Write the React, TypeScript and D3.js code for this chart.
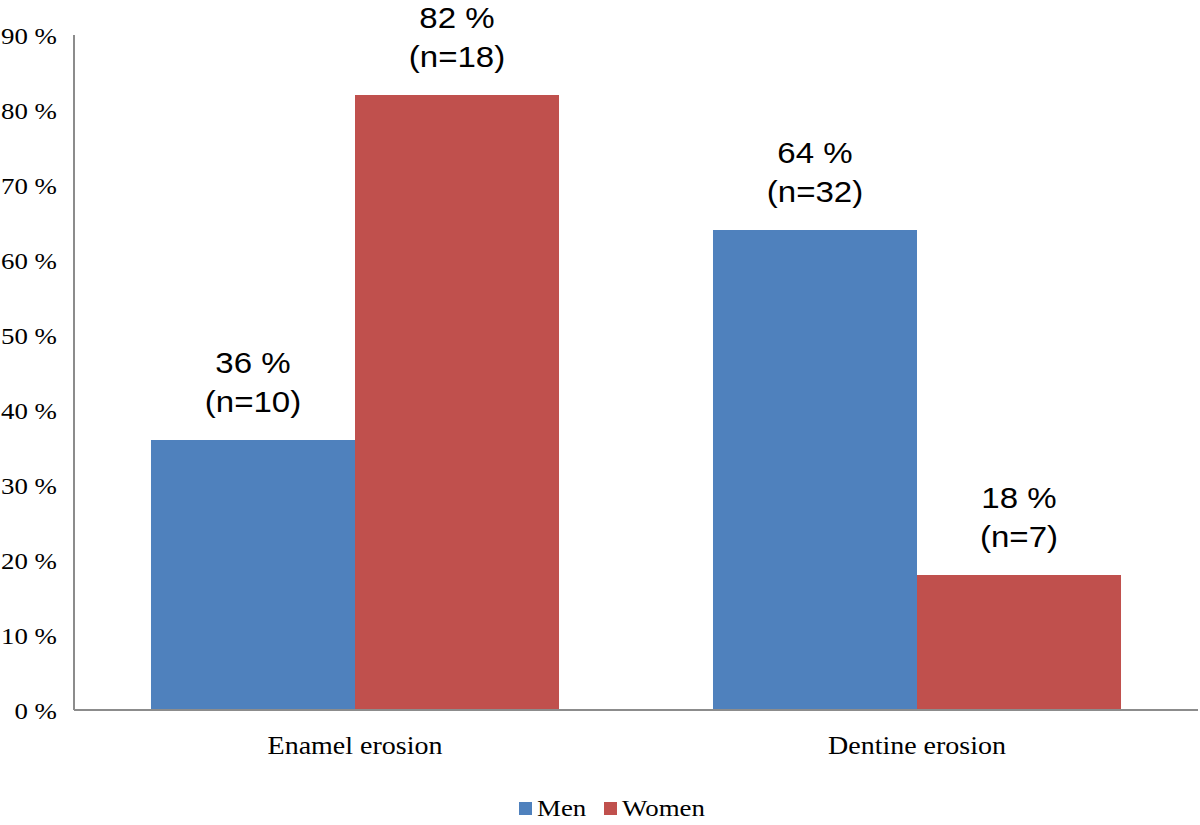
import * as d3 from 'd3'

const categories = ['Enamel erosion', 'Dentine erosion']
const seriesNames = ['Men', 'Women']
const seriesColors = ['#4F81BD', '#C0504D']
const menValues = [36, 64]
const womenValues = [82, 18]
const menCounts = [10, 32]
const womenCounts = [18, 7]
const yTicks = [0, 10, 20, 30, 40, 50, 60, 70, 80, 90]

const W = 1200
const H = 825
const SX = 1.12 // the picture is stretched a bit sideways

const serif = '"Liberation Serif", "Times New Roman", serif'
const sans = '"Liberation Sans", Arial, sans-serif'

export default function App() {
  const x0 = 74
  const x1 = 1198
  const yBottom = 710
  const yTop = 35

  const y = d3.scaleLinear().domain([0, 90]).range([yBottom, yTop])
  const xCat = d3.scaleBand<string>().domain(categories).range([x0, x1]).padding(0)
  const gap = xCat.bandwidth() * 0.137
  const xSeries = d3
    .scaleBand<string>()
    .domain(seriesNames)
    .range([gap, xCat.bandwidth() - gap])
    .padding(0)

  const values = [menValues, womenValues]
  const counts = [menCounts, womenCounts]

  const bars = categories.flatMap((cat, ci) =>
    seriesNames.map((s, si) => ({
      cat,
      series: s,
      color: seriesColors[si],
      value: values[si][ci],
      n: counts[si][ci],
      x: (xCat(cat) ?? 0) + (xSeries(s) ?? 0),
      w: xSeries.bandwidth(),
    })),
  )

  const stretched = (tx: number, ty: number) => `translate(${tx},${ty}) scale(${SX},1)`

  return (
    <svg
      width={W}
      height={H}
      style={{ position: 'absolute', left: 0, top: 0, background: '#fff' }}
    >
      {bars.map((b) => (
        <rect
          key={b.cat + b.series}
          x={b.x}
          y={y(b.value)}
          width={b.w}
          height={yBottom - y(b.value)}
          fill={b.color}
        />
      ))}

      {/* axes */}
      <line x1={x0} x2={x0} y1={yTop} y2={yBottom} stroke="#8c8c8c" strokeWidth={2} />
      <line x1={x0} x2={x1} y1={yBottom} y2={yBottom} stroke="#8c8c8c" strokeWidth={2} />

      {yTicks.map((t) => (
        <text
          key={t}
          transform={stretched(57, y(t) + 8.5)}
          textAnchor="end"
          fontFamily={serif}
          fontSize={24}
          fill="#000"
        >
          {`${t} %`}
        </text>
      ))}

      {categories.map((c) => (
        <text
          key={c}
          transform={stretched((xCat(c) ?? 0) + xCat.bandwidth() / 2, 754)}
          textAnchor="middle"
          fontFamily={serif}
          fontSize={25}
          fill="#000"
        >
          {c}
        </text>
      ))}

      {bars.map((b) => (
        <g key={'lbl' + b.cat + b.series} fontFamily={sans} fontSize={29.5} fill="#000">
          <text transform={stretched(b.x + b.w / 2, y(b.value) - 67)} textAnchor="middle">
            {`${b.value} %`}
          </text>
          <text transform={stretched(b.x + b.w / 2, y(b.value) - 28)} textAnchor="middle">
            {`(n=${b.n})`}
          </text>
        </g>
      ))}

      {/* legend */}
      <rect x={519} y={802} width={13} height={13} fill={seriesColors[0]} />
      <text transform={stretched(537, 816)} fontFamily={serif} fontSize={24} fill="#000">
        {seriesNames[0]}
      </text>
      <rect x={604} y={802} width={13} height={13} fill={seriesColors[1]} />
      <text transform={stretched(622, 816)} fontFamily={serif} fontSize={24} fill="#000">
        {seriesNames[1]}
      </text>
    </svg>
  )
}
